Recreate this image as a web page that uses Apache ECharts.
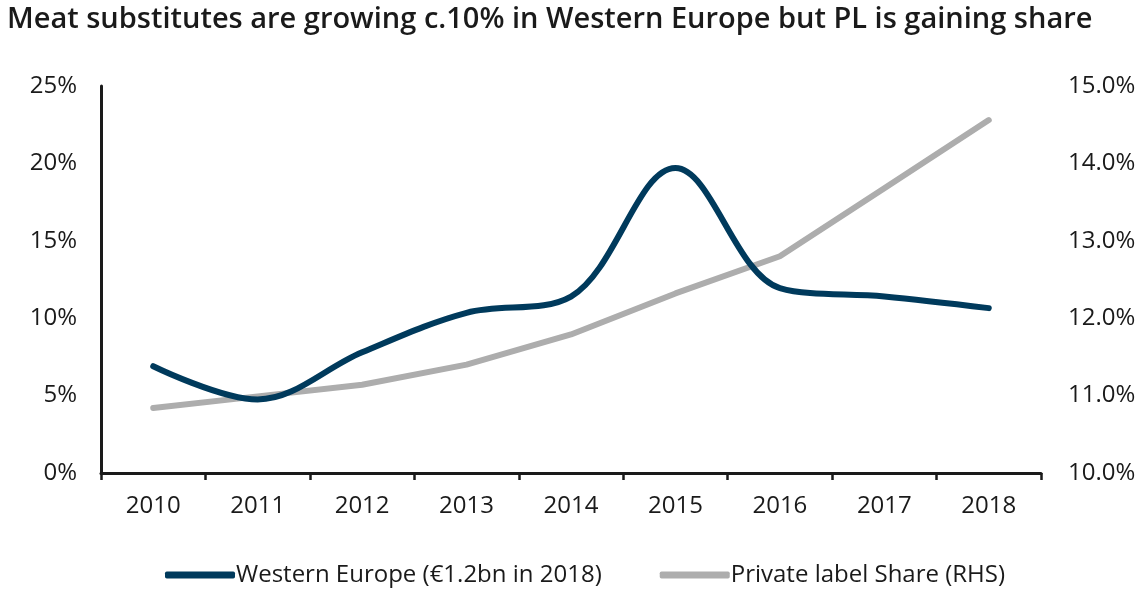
<!DOCTYPE html>
<html>
<head>
<meta charset="utf-8">
<script src="https://cdn.jsdelivr.net/npm/echarts@6.0.0/dist/echarts.min.js"></script>
<style>
  html, body { margin: 0; padding: 0; background: #fff; }
  #chart { width: 1147px; height: 594px; }
</style>
</head>
<body>
<div id="chart"></div>
<script>
// categories and series
const years = ['2010', '2011', '2012', '2013', '2014', '2015', '2016', '2017', '2018'];
const westernEurope = [6.9, 4.75, 7.8, 10.35, 11.4, 19.7, 11.95, 11.4, 10.65];
const privateLabel = [10.84, 10.99, 11.14, 11.40, 11.79, 12.32, 12.80, 13.68, 14.56];

const leftTicks = { min: 0, max: 25, interval: 5 };
const rightTicks = { min: 10, max: 15, interval: 1 };

const seriesNames = ['Western Europe (€1.2bn in 2018)', 'Private label Share (RHS)'];
const titleText = 'Meat substitutes are growing c.10% in Western Europe but PL is gaining share';

const FONT = '"Open Sans", "Noto Sans", sans-serif';
const NAVY = '#003a5c';
const GREY = '#adadad';

const chart = echarts.init(document.getElementById('chart'));

const option = {
    animation: false,
    backgroundColor: '#fff',
    title: {
        text: titleText,
        left: 2,
        top: 0,
        textStyle: {
            fontFamily: FONT,
            fontSize: 29,
            fontWeight: 600,
            color: '#1a1a1a'
        }
    },
    legend: {
        left: 160,
        top: 558,
        itemWidth: 70,
        itemHeight: 7,
        itemGap: 58,
        icon: 'roundRect',
        textStyle: { fontFamily: FONT, fontSize: 24, color: '#1a1a1a', padding: [0, 0, 0, -4] },
        data: seriesNames
    },
    grid: {
        left: 101,
        right: 106,
        top: 86,
        bottom: 121
    },
    xAxis: {
        type: 'category',
        data: years,
        boundaryGap: true,
        axisLine: { lineStyle: { color: '#1a1a1a', width: 3 } },
        axisTick: { show: true, length: 7, lineStyle: { color: '#1a1a1a', width: 2.5 } },
        axisLabel: { fontFamily: FONT, fontSize: 24, color: '#1a1a1a', margin: 21 },
        splitLine: { show: false }
    },
    yAxis: [
        {
            type: 'value',
            min: leftTicks.min,
            max: leftTicks.max,
            interval: leftTicks.interval,
            axisLine: { show: true, lineStyle: { color: '#1a1a1a', width: 3 } },
            axisTick: { show: false },
            splitLine: { show: false },
            axisLabel: {
                fontFamily: FONT, fontSize: 24, color: '#1a1a1a', margin: 24,
                formatter: v => v + '%'
            }
        },
        {
            type: 'value',
            min: rightTicks.min,
            max: rightTicks.max,
            interval: rightTicks.interval,
            axisLine: { show: false },
            axisTick: { show: false },
            splitLine: { show: false },
            axisLabel: {
                fontFamily: FONT, fontSize: 24, color: '#1a1a1a', margin: 27,
                formatter: v => v.toFixed(1) + '%'
            }
        }
    ],
    series: [
        {
            name: seriesNames[0],
            type: 'line',
            yAxisIndex: 0,
            data: westernEurope,
            smooth: 0.35,
            showSymbol: false,
            z: 3,
            lineStyle: { color: NAVY, width: 6, cap: 'round' },
            itemStyle: { color: NAVY }
        },
        {
            name: seriesNames[1],
            type: 'line',
            yAxisIndex: 1,
            data: privateLabel,
            showSymbol: false,
            z: 2,
            lineStyle: { color: GREY, width: 6, cap: 'round' },
            itemStyle: { color: GREY }
        }
    ]
};

chart.setOption(option);
</script>
</body>
</html>
